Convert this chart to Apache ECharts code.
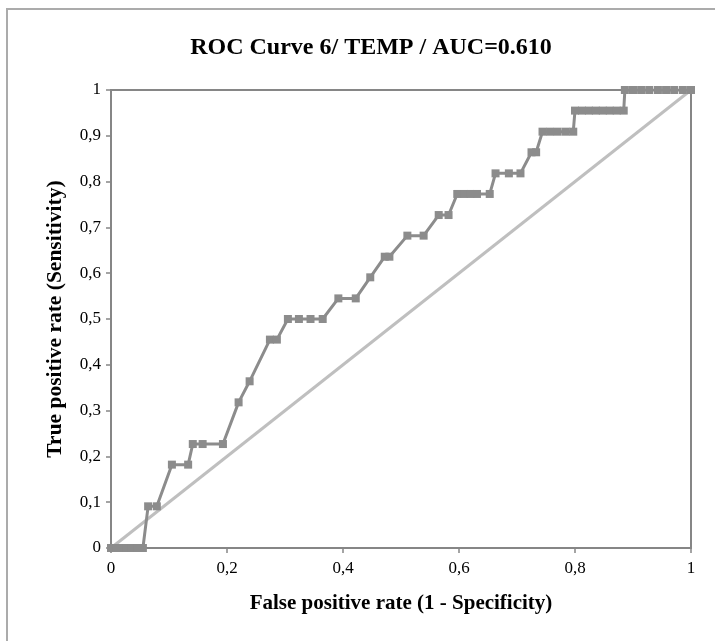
<!DOCTYPE html>
<html>
<head>
<meta charset="utf-8">
<script src="https://cdn.jsdelivr.net/npm/echarts@6/dist/echarts.min.js"></script>
<style>
html,body{margin:0;padding:0;background:#fff;}
#chart{width:715px;height:641px;}
</style>
</head>
<body>
<div id="chart"></div>
<script>
var chartTitle = 'ROC Curve 6/ TEMP / AUC=0.610';
var xAxisName = 'False positive rate (1 - Specificity)';
var yAxisName = 'True positive rate (Sensitivity)';

var fpr = [0, 0.009, 0.018, 0.027, 0.036, 0.045, 0.055,
  0.064, 0.079,
  0.105, 0.133,
  0.141, 0.158, 0.193,
  0.220,
  0.239,
  0.274, 0.286,
  0.305, 0.324, 0.344, 0.365,
  0.392, 0.422,
  0.447,
  0.472, 0.480,
  0.511, 0.539,
  0.565, 0.582,
  0.597, 0.609, 0.620, 0.631, 0.653,
  0.663, 0.686, 0.706,
  0.725, 0.733,
  0.744, 0.757, 0.770, 0.784, 0.797,
  0.800, 0.812, 0.824, 0.836, 0.848, 0.860, 0.872, 0.884,
  0.886, 0.900, 0.914, 0.928, 0.943, 0.957, 0.971, 0.986, 1.0];
var tpr = [0, 0, 0, 0, 0, 0, 0,
  0.091, 0.091,
  0.182, 0.182,
  0.227, 0.227, 0.227,
  0.318,
  0.364,
  0.455, 0.455,
  0.5, 0.5, 0.5, 0.5,
  0.545, 0.545,
  0.591,
  0.636, 0.636,
  0.682, 0.682,
  0.727, 0.727,
  0.773, 0.773, 0.773, 0.773, 0.773,
  0.818, 0.818, 0.818,
  0.864, 0.864,
  0.909, 0.909, 0.909, 0.909, 0.909,
  0.955, 0.955, 0.955, 0.955, 0.955, 0.955, 0.955, 0.955,
  1, 1, 1, 1, 1, 1, 1, 1, 1];
var diagX = [0, 1];
var diagY = [0, 1];

var rocData = fpr.map(function (x, i) { return [x, tpr[i]]; });
var diagData = diagX.map(function (x, i) { return [x, diagY[i]]; });

function fmt(v) { return String(Math.round(v * 10) / 10).replace('.', ','); }

var chart = echarts.init(document.getElementById('chart'), null, {renderer: 'canvas'});
var serif = '"Liberation Serif", "Times New Roman", serif';
var axisCol = '#868686';
chart.setOption({
  animation: false,
  backgroundColor: '#fff',
  graphic: [{
    type: 'rect', z: -10,
    shape: {x: 7, y: 9, width: 800, height: 700},
    style: {fill: 'none', stroke: '#ababab', lineWidth: 2}
  }],
  title: {
    text: chartTitle,
    left: 366, top: 31, textAlign: 'center',
    textStyle: {fontFamily: serif, fontWeight: 'bold', fontSize: 24, color: '#000'}
  },
  grid: {
    left: 111, right: 24, top: 90, bottom: 93,
    show: true, borderColor: axisCol, borderWidth: 2, backgroundColor: 'transparent'
  },
  xAxis: {
    type: 'value', min: 0, max: 1, interval: 0.2,
    name: xAxisName, nameLocation: 'middle', nameGap: 45,
    nameTextStyle: {fontFamily: serif, fontWeight: 'bold', fontSize: 21, color: '#000'},
    axisLine: {show: true, lineStyle: {color: axisCol, width: 2}},
    axisTick: {show: true, length: 5, lineStyle: {color: axisCol, width: 1.5}},
    axisLabel: {fontFamily: serif, fontSize: 17, color: '#000', margin: 12, formatter: fmt},
    splitLine: {show: false}
  },
  yAxis: {
    type: 'value', min: 0, max: 1, interval: 0.1,
    name: yAxisName, nameLocation: 'middle', nameGap: 45, nameRotate: 90,
    nameTextStyle: {fontFamily: serif, fontWeight: 'bold', fontSize: 21.5, color: '#000'},
    axisLine: {show: true, lineStyle: {color: axisCol, width: 2}},
    axisTick: {show: true, length: 5, lineStyle: {color: axisCol, width: 1.5}},
    axisLabel: {fontFamily: serif, fontSize: 17, color: '#000', margin: 10, formatter: fmt},
    splitLine: {show: false}
  },
  series: [{
    type: 'line', data: diagData, symbol: 'none', z: 2,
    lineStyle: {color: '#bfbfbf', width: 3}
  }, {
    type: 'line', data: rocData, symbol: 'rect', symbolSize: 8, z: 3,
    lineStyle: {color: '#8c8c8c', width: 3},
    itemStyle: {color: '#8c8c8c', borderWidth: 0}
  }]
});
</script>
</body>
</html>
